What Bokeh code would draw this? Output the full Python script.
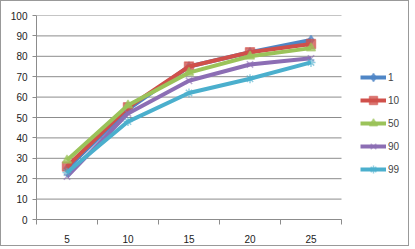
from bokeh.plotting import figure
from bokeh.models import FixedTicker, Legend, LegendItem, ColumnDataSource
from bokeh.embed import file_html
from bokeh.resources import INLINE

categories = [5, 10, 15, 20, 25]
series_names = ["1", "10", "50", "90", "99"]
s1 = [25, 54, 75, 82, 88]
s10 = [26, 55, 75, 82, 86]
s50 = [29, 56, 72, 80, 84]
s90 = [21, 52, 68, 76, 79]
s99 = [23, 48, 62, 69, 77]
y_ticks = [0, 10, 20, 30, 40, 50, 60, 70, 80, 90, 100]

colors = ["#4F86C6", "#D0504B", "#9BC35A", "#8C6EB4", "#4BAFCD"]
markers = ["diamond", "square", "triangle", "x", "asterisk"]
values = [s1, s10, s50, s90, s99]

FONT = "Liberation Sans"

step = categories[1] - categories[0]
x0 = categories[0] - step / 2
x1 = categories[-1] + step / 2
bounds = [x0] + [c + step / 2 for c in categories]

PLOT_W = 305    # width of the category area in px
FRAME_W = 372   # frame incl. legend area
x_end = x0 + (x1 - x0) * FRAME_W / PLOT_W

p = figure(frame_width=FRAME_W, frame_height=204, x_range=(x0, x_end), y_range=(0, 100),
           output_backend="svg", toolbar_location=None,
           min_border_left=35, min_border_right=0, min_border_top=14, min_border_bottom=24)
p.outline_line_color = None
p.xgrid.grid_line_color = None
p.ygrid.grid_line_color = None

# horizontal gridlines limited to the category area
p.segment(x0=[x0] * len(y_ticks), x1=[x1] * len(y_ticks), y0=y_ticks, y1=y_ticks,
          line_color="#8C8C8C", line_width=1)

p.xaxis.ticker = FixedTicker(ticks=categories, minor_ticks=bounds)
p.xaxis.bounds = (x0, x1)
p.yaxis.ticker = FixedTicker(ticks=y_ticks)
for ax in (p.xaxis, p.yaxis):
    ax.axis_line_color = "#8C8C8C"
    ax.major_tick_line_color = "#8C8C8C"
    ax.minor_tick_line_color = "#8C8C8C"
    ax.major_label_text_font = FONT
    ax.major_label_text_font_size = "10px"
    ax.major_label_text_color = "#222222"
p.xaxis.major_tick_out = 0
p.xaxis.major_tick_in = 0
p.xaxis.minor_tick_out = 5
p.xaxis.minor_tick_in = 0
p.xaxis.major_label_standoff = 10
p.yaxis.major_tick_out = 4
p.yaxis.major_tick_in = 0
p.yaxis.minor_tick_out = 0
p.yaxis.major_label_standoff = 5

items = []
for name, vals, col, mk in zip(series_names, values, colors, markers):
    src = ColumnDataSource(dict(x=categories, y=vals))
    ln = p.line("x", "y", source=src, line_color=col, line_width=4)
    sc = p.scatter("x", "y", source=src, marker=mk, size=9, fill_color=col,
                   line_color=col, line_width=1.5, fill_alpha=0.75, line_alpha=0.6)
    items.append(LegendItem(label=name, renderers=[ln, sc]))

legend = Legend(items=items, location=(324, 40), orientation="vertical",
                background_fill_alpha=0, border_line_color=None,
                label_text_font=FONT, label_text_font_size="10px",
                glyph_width=26, glyph_height=20, spacing=3, padding=0,
                margin=0, label_standoff=2)
p.add_layout(legend, "center")
p.styles = {"border": "1px solid #999999"}

open("out.html", "w").write(file_html(p, INLINE))
